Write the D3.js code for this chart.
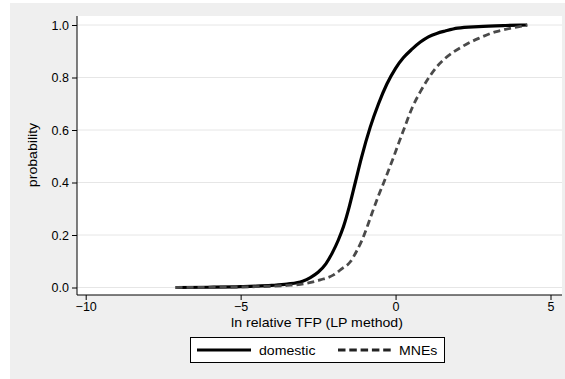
<!DOCTYPE html>
<html>
<head>
<meta charset="utf-8">
<script src="https://cdn.jsdelivr.net/npm/d3@7"></script>
<style>
  html, body { margin: 0; padding: 0; background: #fff; }
  svg { display: block; font-family: "Liberation Sans", Arial, sans-serif; }
</style>
</head>
<body>
<svg id="svg" width="565" height="379"></svg>
<script>
// cumulative distribution of ln relative TFP
const domesticX = [-7.1, -6, -5, -4.5, -4, -3.5, -3, -2.75, -2.5, -2.25, -2.05, -1.85, -1.68, -1.5, -1.3, -1.1, -0.82, -0.55, -0.28, 0, 0.25, 0.53, 0.8, 1.06, 1.33, 1.6, 2.0, 2.68, 3.54, 4.25];
const domesticP = [0, 0.001, 0.003, 0.005, 0.008, 0.013, 0.024, 0.038, 0.058, 0.09, 0.13, 0.18, 0.232, 0.305, 0.40, 0.495, 0.61, 0.70, 0.775, 0.835, 0.875, 0.908, 0.935, 0.955, 0.968, 0.977, 0.988, 0.994, 0.998, 1.0];
const mneX = [-7.1, -6, -5, -4, -3.5, -3.07, -2.43, -2.0, -1.75, -1.46, -1.25, -1.08, -0.92, -0.76, -0.55, -0.39, -0.2, -0.06, 0.1, 0.26, 0.53, 0.8, 1.06, 1.33, 1.6, 2.14, 2.68, 3.22, 3.54, 3.9, 4.25];
const mneP = [0, 0.001, 0.002, 0.005, 0.008, 0.012, 0.029, 0.048, 0.07, 0.098, 0.14, 0.181, 0.23, 0.283, 0.35, 0.397, 0.455, 0.498, 0.55, 0.60, 0.683, 0.746, 0.797, 0.841, 0.873, 0.917, 0.949, 0.974, 0.983, 0.992, 1.0];
const xTicks = [-10, -5, 0, 5];
const yTicks = [0, 0.2, 0.4, 0.6, 0.8, 1.0];
const seriesNames = ['domestic', 'MNEs'];

const svg = d3.select('#svg');
const plot = { left: 77, right: 562, top: 16, bottom: 295 };

svg.append('rect').attr('x', 10).attr('y', 3).attr('width', 555).attr('height', 376).attr('fill', '#efefef');
svg.append('rect').attr('x', plot.left).attr('y', plot.top)
  .attr('width', plot.right - plot.left).attr('height', plot.bottom - plot.top).attr('fill', '#fff');

const x = d3.scaleLinear().domain([-10, 5]).range([85.7, 550.5]);
const y = d3.scaleLinear().domain([0, 1]).range([287.5, 25]);

// gridlines
svg.append('g').selectAll('line').data(yTicks).enter().append('line')
  .attr('x1', plot.left).attr('x2', plot.right)
  .attr('y1', d => y(d)).attr('y2', d => y(d))
  .attr('stroke', '#e6e6e6').attr('stroke-width', 1);

// axes
const yAxis = svg.append('g').attr('transform', `translate(${plot.left},0)`)
  .call(d3.axisLeft(y).tickValues(yTicks).tickFormat(d3.format('.1f')).tickSize(5).tickPadding(3));
yAxis.select('.domain').attr('d', `M0,${plot.top}V${plot.bottom}`);
const xAxis = svg.append('g').attr('transform', `translate(0,${plot.bottom})`)
  .call(d3.axisBottom(x).tickValues(xTicks).tickFormat(d => d < 0 ? '\u2212' + Math.abs(d) : d).tickSize(5).tickPadding(2));
xAxis.select('.domain').attr('d', `M${plot.left},0H${plot.right}`);
svg.selectAll('.tick text').attr('font-size', 12.5).attr('fill', '#000')
  .attr('font-family', '"Liberation Sans", Arial, sans-serif');
svg.selectAll('.tick line, .domain').attr('stroke', '#000');

// curves
const line = d3.line().x(d => x(d[0])).y(d => y(d[1])).curve(d3.curveMonotoneX);
svg.append('path').datum(d3.zip(domesticX, domesticP)).attr('d', line)
  .attr('fill', 'none').attr('stroke', '#000').attr('stroke-width', 3.2);
svg.append('path').datum(d3.zip(mneX, mneP)).attr('d', line)
  .attr('fill', 'none').attr('stroke', '#4a4a4a').attr('stroke-width', 2.8)
  .attr('stroke-dasharray', '7,4');

// titles
const stretched = (tx, ty, str, rot) => svg.append('text')
  .attr('transform', `translate(${tx},${ty})${rot ? ' rotate(-90)' : ''} scale(1.13,1)`)
  .attr('text-anchor', 'middle').attr('font-size', 12.5).attr('fill', '#000').text(str);
stretched(317, 327, 'ln relative TFP (LP method)');
stretched(37, 155, 'probability', true);

// legend
const lg = svg.append('g');
lg.append('rect').attr('x', 190.5).attr('y', 337.5).attr('width', 254).attr('height', 25)
  .attr('fill', '#fff').attr('stroke', '#000').attr('stroke-width', 1);
lg.append('line').attr('x1', 197).attr('x2', 251).attr('y1', 350).attr('y2', 350)
  .attr('stroke', '#000').attr('stroke-width', 3);
lg.append('line').attr('x1', 338).attr('x2', 391).attr('y1', 350).attr('y2', 350)
  .attr('stroke', '#222').attr('stroke-width', 3).attr('stroke-dasharray', '7.5,3.8');
lg.append('text').attr('transform', 'translate(259,354.5) scale(1.13,1)')
  .attr('font-size', 12.5).text(seriesNames[0]);
lg.append('text').attr('transform', 'translate(399,354.5) scale(1.13,1)')
  .attr('font-size', 12.5).text(seriesNames[1]);
</script>
</body>
</html>
